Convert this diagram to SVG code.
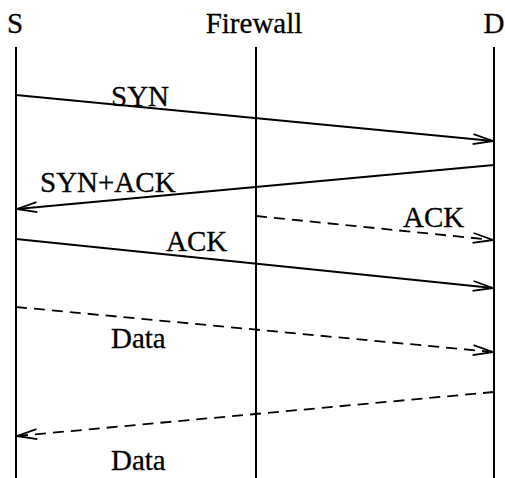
<svg xmlns="http://www.w3.org/2000/svg" width="505" height="478" viewBox="0 0 505 478">
<style>
.lbl{font-family:"Liberation Serif","Times New Roman",serif;font-size:29px;fill:#000;stroke:#000;stroke-width:0.3}
.life{stroke:#000;stroke-width:2;fill:none}
.msg{stroke:#000;stroke-width:1.8;fill:none}
.dash{stroke-dasharray:11 7}
</style>
<defs>
<marker id="arr" markerUnits="userSpaceOnUse" markerWidth="24" markerHeight="14" refX="22" refY="7" orient="auto" viewBox="0 0 24 14">
<path d="M2,2 L22,7 L2,12" fill="none" stroke="#000" stroke-width="1.8"/>
</marker>
</defs>
<g id="node-S">
<text class="lbl" x="15" y="33" text-anchor="middle">S</text>
<line class="life" x1="16" y1="47" x2="16" y2="478"/>
</g>
<g id="node-Firewall">
<text class="lbl" x="254" y="33" text-anchor="middle">Firewall</text>
<line class="life" x1="256" y1="47" x2="256" y2="478"/>
</g>
<g id="node-D">
<text class="lbl" x="494" y="33" text-anchor="middle">D</text>
<line class="life" x1="494" y1="47" x2="494" y2="478"/>
</g>
<g id="connectors">
<line class="msg" x1="16" y1="95" x2="493" y2="141" marker-end="url(#arr)"/>
<line class="msg" x1="494" y1="165" x2="17" y2="209" marker-end="url(#arr)"/>
<line class="msg dash" x1="256" y1="216" x2="493" y2="240" marker-end="url(#arr)"/>
<line class="msg" x1="16" y1="239" x2="493" y2="288" marker-end="url(#arr)"/>
<line class="msg dash" x1="16" y1="307" x2="493" y2="352" marker-end="url(#arr)"/>
<line class="msg dash" x1="494" y1="392" x2="17" y2="436" marker-end="url(#arr)"/>
<text class="lbl" x="111" y="106">SYN</text>
<text class="lbl" x="40" y="192">SYN+ACK</text>
<text class="lbl" x="403" y="227">ACK</text>
<text class="lbl" x="166" y="251">ACK</text>
<text class="lbl" x="111" y="348">Data</text>
<text class="lbl" x="111" y="470">Data</text>
</g>
</svg>
